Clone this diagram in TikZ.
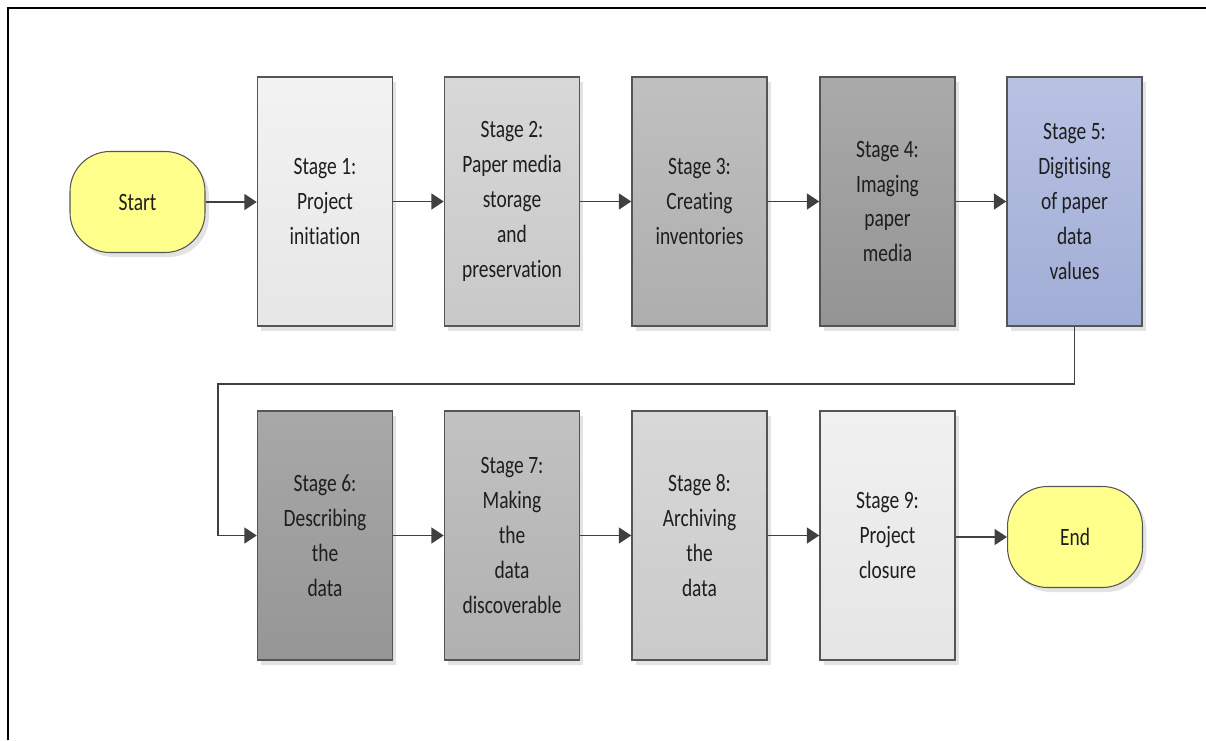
\documentclass[tikz,border=0pt]{standalone}
\usepackage{fontspec}
\setmainfont{Carlito}[FakeStretch=0.78, Ligatures=NoCommon]
\usetikzlibrary{arrows.meta,shadows}

\definecolor{boxline}{HTML}{555555}
\definecolor{flowline}{HTML}{404040}
\definecolor{txt}{HTML}{1E1E1E}
\definecolor{termfill}{HTML}{FFFF8C}
% top / bottom tones of the stage boxes
\definecolor{aT}{HTML}{F3F3F3}\definecolor{aB}{HTML}{E6E6E6}
\definecolor{bT}{HTML}{D8D8D8}\definecolor{bB}{HTML}{C8C8C8}
\definecolor{cT}{HTML}{C0C0C0}\definecolor{cB}{HTML}{AEAEAE}
\definecolor{dT}{HTML}{AAAAAA}\definecolor{dB}{HTML}{949494}
\definecolor{eT}{HTML}{B9C2E3}\definecolor{eB}{HTML}{A1ADD6}
\definecolor{fT}{HTML}{A8A8A8}\definecolor{fB}{HTML}{969696}
\definecolor{gT}{HTML}{C2C2C2}\definecolor{gB}{HTML}{B0B0B0}
\definecolor{hT}{HTML}{D8D8D8}\definecolor{hB}{HTML}{CACACA}
\definecolor{iT}{HTML}{F1F1F1}\definecolor{iB}{HTML}{E5E5E5}

\tikzset{
  boxshadow/.style={drop shadow={shadow xshift=2.2pt, shadow yshift=-2.6pt,
      fill=black!11, opacity=1}},
  stagebox/.style 2 args={draw=boxline, line width=0.85pt, boxshadow,
      top color=#1, bottom color=#2,
      minimum width=2.7cm, minimum height=4.98cm,
      align=center, text=txt, inner sep=2pt,
      font=\fontsize{14.2}{19.9}\selectfont},
  terminal/.style={draw=boxline, line width=0.6pt, boxshadow, fill=termfill,
      rounded corners=0.8cm, minimum width=2.7cm, minimum height=2.02cm,
      text=txt, font=\fontsize{14.2}{19.9}\selectfont},
  flow/.style={draw=flowline, line width=0.85pt,
      -{Triangle[length=7pt,width=9pt]}},
}

\begin{document}
\begin{tikzpicture}[x=0.02cm, y=-0.02cm]
\useasboundingbox (0,0) rectangle (1206,740);

% page frame
\draw[line width=1.2pt, black] (8,740) -- (8,8) -- (1206,8);

% terminals
\node[terminal] (start) at (137.5,202) {Start};
\node[terminal] (end)   at (1075,537) {End};

% first row of stages
\node[stagebox={aT}{aB}] (s1) at (325,201.5)
  {Stage 1:\\Project\\initiation};
\node[stagebox={bT}{bB}] (s2) at (512,201.5)
  {Stage 2:\\Paper media\\storage\\and\\preservation};
\node[stagebox={cT}{cB}] (s3) at (699.5,201.5)
  {Stage 3:\\Creating\\inventories};
\node[stagebox={dT}{dB}] (s4) at (887.5,201.5)
  {Stage 4:\\Imaging\\paper\\media};
\node[stagebox={eT}{eB}] (s5) at (1074.5,201.5)
  {Stage 5:\\Digitising\\of paper\\data\\values};

% second row of stages
\node[stagebox={fT}{fB}] (s6) at (325,535.5)
  {Stage 6:\\Describing\\the\\data};
\node[stagebox={gT}{gB}] (s7) at (512,535.5)
  {Stage 7:\\Making\\the\\data\\discoverable};
\node[stagebox={hT}{hB}] (s8) at (699.5,535.5)
  {Stage 8:\\Archiving\\the\\data};
\node[stagebox={iT}{iB}] (s9) at (887.5,535.5)
  {Stage 9:\\Project\\closure};

% connectors
\draw[flow] (start.east) -- (s1.west |- start.east);
\draw[flow] (s1) -- (s2);
\draw[flow] (s2) -- (s3);
\draw[flow] (s3) -- (s4);
\draw[flow] (s4) -- (s5);

\coordinate (turn) at (218,384);
\draw[flow] (s5.south) |- (turn) |- (s6.west);

\draw[flow] (s6) -- (s7);
\draw[flow] (s7) -- (s8);
\draw[flow] (s8) -- (s9);
\draw[flow] (s9.east |- end.west) -- (end.west);
\end{tikzpicture}
\end{document}
